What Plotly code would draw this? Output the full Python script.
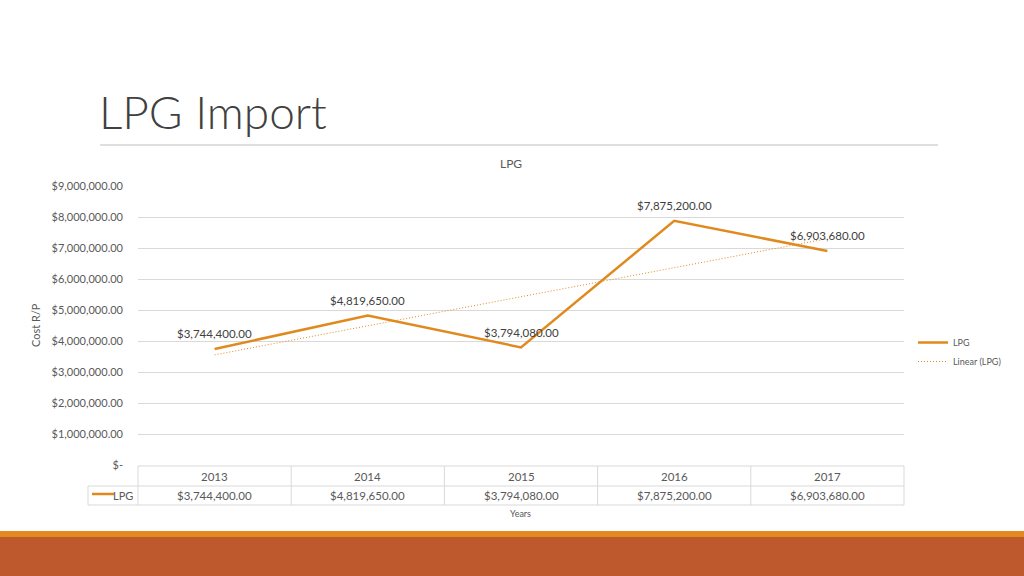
import numpy as np
import plotly.graph_objects as go

years = ["2013", "2014", "2015", "2016", "2017"]
lpg = [3744400.00, 4819650.00, 3794080.00, 7875200.00, 6903680.00]
y_ticks = [0, 1e6, 2e6, 3e6, 4e6, 5e6, 6e6, 7e6, 8e6, 9e6]
y_ticktext = ["$-"] + ["${:,.2f}".format(v) for v in y_ticks[1:]]

W, H = 1024, 576
L, R, T, B = 138, 904, 186, 465
FONT = "Lato"
GREY = "#595959"
ORANGE = "#E08A1E"


def px(x):
    return (x - L) / (R - L)


def py(y):
    return (B - y) / (B - T)


def money(v):
    return "${:,.2f}".format(v)


# linear trendline (Excel style) computed from the data
xi = np.arange(1, len(lpg) + 1)
slope, icpt = np.polyfit(xi, lpg, 1)
trend = slope * xi + icpt

fig = go.Figure()
fig.add_trace(go.Scatter(
    x=years, y=lpg, mode="lines", name="LPG",
    line=dict(color=ORANGE, width=2.5),
))
fig.add_trace(go.Scatter(
    x=years, y=trend, mode="lines", name="Linear (LPG)",
    line=dict(color=ORANGE, width=1, dash="1px,2px"),
))

shapes = []
annotations = []

# data labels
for i, v in enumerate(lpg):
    annotations.append(dict(text=money(v), xref="x", yref="y", x=i, y=v,
                            yshift=15, showarrow=False, yanchor="middle",
                            font=dict(family=FONT, size=11.5, color="#404040")))

# title and rule
annotations.append(dict(text="LPG Import", xref="paper", yref="paper",
                        x=px(97), y=py(112), xanchor="left", yanchor="middle",
                        showarrow=False,
                        font=dict(family=FONT, size=46, color="#404040", weight=300)))
shapes.append(dict(type="line", xref="paper", yref="paper",
                   x0=px(100), x1=px(938), y0=py(145), y1=py(145),
                   line=dict(color="#BFBFBF", width=1)))
annotations.append(dict(text="LPG", xref="paper", yref="paper",
                        x=px(511), y=py(164), xanchor="center", yanchor="middle",
                        showarrow=False, font=dict(family=FONT, size=12, color=GREY)))
annotations.append(dict(text="Cost R/P", xref="paper", yref="paper",
                        x=px(35), y=py(325), xanchor="center", yanchor="middle",
                        textangle=-90, showarrow=False,
                        font=dict(family=FONT, size=11, color=GREY)))
annotations.append(dict(text="Years", xref="paper", yref="paper",
                        x=px(520), y=py(513), xanchor="center", yanchor="middle",
                        showarrow=False, font=dict(family=FONT, size=9, color=GREY)))

# data table
border = dict(color="#D9D9D9", width=1)
row0, row1, row2 = 466, 486, 505
shapes.append(dict(type="line", xref="paper", yref="paper", x0=px(L), x1=px(R),
                   y0=py(row0), y1=py(row0), line=border))
shapes.append(dict(type="line", xref="paper", yref="paper", x0=px(88), x1=px(R),
                   y0=py(row1), y1=py(row1), line=border))
shapes.append(dict(type="line", xref="paper", yref="paper", x0=px(88), x1=px(R),
                   y0=py(row2), y1=py(row2), line=border))
shapes.append(dict(type="line", xref="paper", yref="paper", x0=px(88), x1=px(88),
                   y0=py(row1), y1=py(row2), line=border))
ncol = len(years)
for i in range(ncol + 1):
    xx = L + (R - L) * i / ncol
    shapes.append(dict(type="line", xref="paper", yref="paper", x0=px(xx), x1=px(xx),
                       y0=py(row0), y1=py(row2), line=border))
for i, (yr, v) in enumerate(zip(years, lpg)):
    annotations.append(dict(text=yr, xref="x", yref="paper", x=i, y=py(476),
                            showarrow=False, yanchor="middle",
                            font=dict(family=FONT, size=11.5, color=GREY)))
    annotations.append(dict(text=money(v), xref="x", yref="paper", x=i, y=py(495),
                            showarrow=False, yanchor="middle",
                            font=dict(family=FONT, size=11.5, color=GREY)))
shapes.append(dict(type="line", xref="paper", yref="paper", x0=px(92), x1=px(114),
                   y0=py(494), y1=py(494), line=dict(color=ORANGE, width=2.5)))
annotations.append(dict(text="LPG", xref="paper", yref="paper", x=px(135), y=py(495),
                        xanchor="right", yanchor="middle", showarrow=False,
                        font=dict(family=FONT, size=11, color=GREY)))

# bottom bands
shapes.append(dict(type="rect", xref="paper", yref="paper", x0=px(-2), x1=px(W + 2),
                   y0=py(537), y1=py(531), line=dict(width=0), fillcolor="#E28A1F",
                   layer="below"))
shapes.append(dict(type="rect", xref="paper", yref="paper", x0=px(-2), x1=px(W + 2),
                   y0=py(578), y1=py(537), line=dict(width=0), fillcolor="#BE582D",
                   layer="below"))

fig.update_layout(
    width=W, height=H, autosize=False,
    margin=dict(l=L, r=W - R, t=T, b=H - B, pad=0),
    paper_bgcolor="white", plot_bgcolor="white",
    font=dict(family=FONT, color=GREY, size=11),
    showlegend=True,
    legend=dict(x=px(913), y=py(352), xanchor="left", yanchor="middle",
                font=dict(family=FONT, size=9, color=GREY),
                bgcolor="rgba(0,0,0,0)", tracegroupgap=4),
    shapes=shapes, annotations=annotations,
)
fig.update_xaxes(type="category", range=[-0.5, ncol - 0.5], showticklabels=False,
                 showgrid=False, zeroline=False, showline=False, ticks="")
fig.update_yaxes(range=[0, 9e6], tickvals=y_ticks, ticktext=y_ticktext,
                 showgrid=True, gridcolor="#D9D9D9", gridwidth=1, zeroline=False,
                 showline=False, ticks="", ticklabelstandoff=14,
                 tickfont=dict(family=FONT, size=11, color=GREY))

post = (
    "document.documentElement.style.overflow='hidden';"
    "document.body.style.overflow='hidden';"
    "document.body.style.margin='0';"
)
fig.write_html("out.html",
               config={"responsive": False, "displayModeBar": False},
               post_script=post)
